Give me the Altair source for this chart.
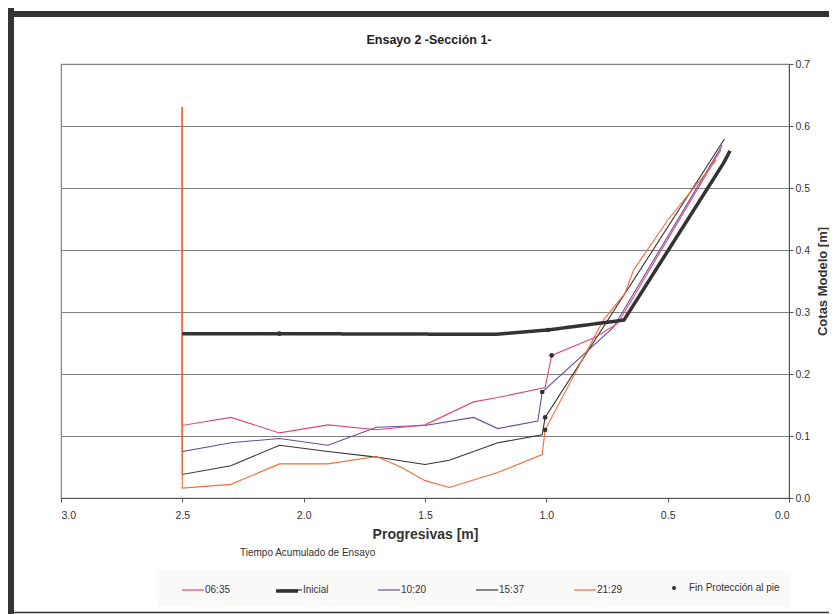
import altair as alt
import pandas as pd

# ---- data ----
series_names = ["06:35", "Inicial", "10:20", "15:37", "21:29"]

x_0635 = [2.5, 2.5, 2.3, 2.1, 1.9, 1.7, 1.5, 1.3, 1.2, 1.005, 0.978, 0.80, 0.705, 0.28]
y_0635 = [0.63, 0.117, 0.130, 0.105, 0.118, 0.110, 0.118, 0.155, 0.162, 0.178, 0.230, 0.259, 0.282, 0.562]

x_inicial = [2.5, 2.1, 1.21, 0.994, 0.68, 0.27, 0.243]
y_inicial = [0.265, 0.265, 0.264, 0.271, 0.287, 0.540, 0.560]

x_1020 = [2.5, 2.5, 2.3, 2.1, 1.9, 1.7, 1.5, 1.3, 1.2, 1.035, 1.017, 0.724, 0.275]
y_1020 = [0.63, 0.075, 0.089, 0.096, 0.085, 0.114, 0.117, 0.130, 0.112, 0.124, 0.171, 0.275, 0.569]

x_1537 = [2.5, 2.5, 2.3, 2.1, 1.9, 1.7, 1.5, 1.4, 1.2, 1.017, 1.005, 0.266]
y_1537 = [0.63, 0.038, 0.052, 0.085, 0.075, 0.066, 0.054, 0.061, 0.089, 0.102, 0.130, 0.579]

x_2129 = [2.5, 2.5, 2.3, 2.1, 1.9, 1.7, 1.6, 1.5, 1.4, 1.2, 1.017, 1.005, 0.765, 0.676, 0.64, 0.50, 0.30]
y_2129 = [0.63, 0.016, 0.022, 0.055, 0.055, 0.067, 0.050, 0.028, 0.017, 0.041, 0.070, 0.110, 0.287, 0.330, 0.368, 0.448, 0.545]

fin_x = [2.1, 0.994, 0.978, 1.017, 1.005, 1.005]
fin_y = [0.265, 0.271, 0.230, 0.171, 0.130, 0.110]
fin_name = "Fin Protección al pie"

x_ticks = [0.0, 0.5, 1.0, 1.5, 2.0, 2.5, 3.0]
y_ticks = [0.0, 0.1, 0.2, 0.3, 0.4, 0.5, 0.6, 0.7]

line_colors = ["#e0457b", "#333333", "#6b4c9a", "#333333", "#f26b38"]

chart_title = "Ensayo 2 -Sección 1-"
legend_heading = "Tiempo Acumulado de Ensayo"

# ---- tables ----
rows = []
for name, xs, ys in [("15:37", x_1537, y_1537), ("10:20", x_1020, y_1020),
                     ("06:35", x_0635, y_0635), ("21:29", x_2129, y_2129)]:
    for i, (a, b) in enumerate(zip(xs, ys)):
        rows.append({"x": a, "y": b, "serie": name, "i": i})
thin_df = pd.DataFrame(rows)
ini_df = pd.DataFrame({"x": x_inicial, "y": y_inicial, "serie": "Inicial",
                       "serie_b": "Inicial", "i": list(range(len(x_inicial)))})
pts_df = pd.DataFrame({"x": fin_x, "y": fin_y, "marca": [fin_name] * len(fin_x)})
one = pd.DataFrame({"k": [0]})

FONT = "Liberation Sans"
color_scale = alt.Scale(domain=series_names, range=line_colors)

legend_lines = alt.Legend(
    title=None, orient="none", legendX=120, legendY=514, direction="horizontal",
    columns=5, symbolType="stroke", symbolSize=484, symbolStrokeWidth=1.2,
    labelFont=FONT, labelFontSize=10, labelColor="#333333", labelOffset=0,
    columnPadding=46, symbolOpacity=1,
)
legend_thick = alt.Legend(
    title=None, orient="none", legendX=213, legendY=514, direction="horizontal",
    symbolType="stroke", symbolSize=484, symbolStrokeWidth=3.5, symbolStrokeColor="#333333",
    labelExpr="''", labelFont=FONT, labelFontSize=10, labelOffset=0, symbolOpacity=1,
)
legend_dot = alt.Legend(
    title=None, orient="none", legendX=608, legendY=519, direction="horizontal",
    symbolType="circle", symbolSize=16, symbolFillColor="#333333", symbolStrokeWidth=0,
    labelFont=FONT, labelFontSize=10, labelColor="#333333", labelOffset=10, symbolOpacity=1,
)

x_enc = alt.X("x:Q", scale=alt.Scale(domain=[0, 3], reverse=True),
              axis=alt.Axis(values=x_ticks, format=".1f", title="Progresivas [m]", grid=False,
                            domainColor="#555555", tickColor="#555555", tickSize=4,
                            labelFont=FONT, labelFontSize=10.5, labelColor="#333333", labelPadding=8,
                            titleFont=FONT, titleFontSize=14, titleFontWeight="bold",
                            titleColor="#333333", titlePadding=7))
y_enc = alt.Y("y:Q", scale=alt.Scale(domain=[0, 0.7]),
              axis=alt.Axis(orient="right", values=y_ticks, format=".1f", title="Cotas Modelo [m]",
                            grid=True, gridColor="#808080", gridWidth=1.2,
                            domainColor="#555555", tickColor="#555555", tickSize=4,
                            labelFont=FONT, labelFontSize=10.5, labelColor="#333333", labelPadding=2,
                            titleFont=FONT, titleFontSize=13, titleFontWeight="bold",
                            titleColor="#333333", titleAngle=270, titleBaseline="top",
                            titlePadding=7))

box = alt.Chart(one).mark_rect(color="#f9f9f7").encode(
    x=alt.value(96), x2=alt.value(730), y=alt.value(507), y2=alt.value(543))

heading = alt.Chart(one).mark_text(
    text=legend_heading, align="left", baseline="middle",
    font=FONT, fontSize=10, color="#333333").encode(x=alt.value(179), y=alt.value(489))

title_txt = alt.Chart(one).mark_text(
    text=chart_title, align="center", baseline="middle",
    font=FONT, fontSize=12.5, fontWeight="bold", color="#222222").encode(
    x=alt.value(368), y=alt.value(-24))

thin = alt.Chart(thin_df).mark_line(strokeWidth=1.1).encode(
    x=x_enc, y=y_enc,
    color=alt.Color("serie:N", scale=color_scale, legend=legend_lines),
    order=alt.Order("i:Q"),
)

ini = alt.Chart(ini_df).mark_line(strokeWidth=3.5).encode(
    x="x:Q", y="y:Q",
    color=alt.Color("serie:N", scale=color_scale, legend=legend_lines),
    strokeDash=alt.StrokeDash("serie_b:N", scale=alt.Scale(domain=["Inicial"], range=[[1, 0]]),
                              legend=legend_thick),
    order=alt.Order("i:Q"),
)

pts = alt.Chart(pts_df).mark_point(filled=True, size=22, opacity=1, color="#333333").encode(
    x="x:Q", y="y:Q",
    shape=alt.Shape("marca:N", scale=alt.Scale(domain=[fin_name], range=["circle"]),
                    legend=legend_dot),
)

frame_col = "#333338"
left_band = alt.Chart(one).mark_rule(color=frame_col, strokeWidth=6).encode(
    x=alt.value(-50), y=alt.value(-56), y2=alt.value(550))
top_band = alt.Chart(one).mark_rule(color=frame_col, strokeWidth=6).encode(
    y=alt.value(-50), x=alt.value(-56), x2=alt.value(770))
bottom_line = alt.Chart(one).mark_rule(color=frame_col, strokeWidth=1.5).encode(
    y=alt.value(548.5), x=alt.value(-53), x2=alt.value(770))

chart = alt.layer(box, heading, title_txt, thin, ini, pts,
                  left_band, top_band, bottom_line).properties(
    width=728, height=434,
    autosize=alt.AutoSizeParams(type="none"),
    padding={"left": 53, "top": 56, "right": 40, "bottom": 116},
    background="white",
).configure_view(stroke="#808080", strokeWidth=1.2)

chart.save("out.html", embed_options={"renderer": "svg", "actions": False})
